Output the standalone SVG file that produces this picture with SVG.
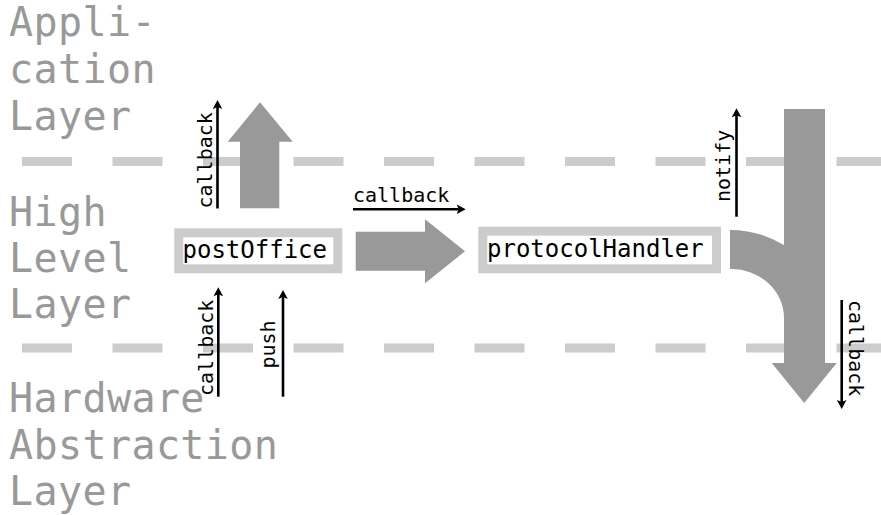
<svg xmlns="http://www.w3.org/2000/svg" width="881" height="515" viewBox="0 0 881 515">
<defs>
<style>
.layer{font-family:"DejaVu Sans Mono",monospace;font-size:40px;fill:#999;letter-spacing:0.4px}
.dash{stroke:#ccc;stroke-width:9;stroke-dasharray:50 40.5;fill:none}
.box{fill:#fff;stroke:#ccc;stroke-width:9}
.name{font-family:"DejaVu Sans Mono",monospace;font-size:24px;fill:#000}
.lbl{font-family:"DejaVu Sans Mono",monospace;font-size:20px;fill:#000}
.flow{fill:#999}
.sig{stroke:#000;stroke-width:2.6;fill:none;marker-end:url(#ah)}
</style>
<marker id="ah" viewBox="-6 -5 11 10" refX="0" refY="0" markerWidth="11" markerHeight="10" orient="auto" markerUnits="userSpaceOnUse">
<path d="M4,0 L-5,-4.8 L-3,0 L-5,4.8 Z" fill="#000"/>
</marker>
</defs>
<g id="layers">
<text class="layer" x="9" y="36">Appli-</text>
<text class="layer" x="9" y="83">cation</text>
<text class="layer" x="9" y="130">Layer</text>
<text class="layer" x="9" y="226">High</text>
<text class="layer" x="9" y="272">Level</text>
<text class="layer" x="9" y="318">Layer</text>
<text class="layer" x="9" y="412">Hardware</text>
<text class="layer" x="9" y="459">Abstraction</text>
<text class="layer" x="9" y="505">Layer</text>
</g>
<g id="boundaries">
<line class="dash" x1="22" y1="161.5" x2="881" y2="161.5"/>
<line class="dash" x1="22" y1="348" x2="881" y2="348"/>
</g>
<g id="flows">
<polygon class="flow" points="240,208.3 240,141.7 227.7,141.7 260,102.3 292.7,141.7 279.3,141.7 279.3,208.3"/>
<polygon class="flow" points="355.7,231.7 425,231.7 425,219.3 465,251.3 425,283.3 425,270.7 355.7,270.7"/>
<path class="flow" d="M784,109 H825 V363 H836.7 L804.2,403 L771.7,363 H784 V318 A53,49 0 0 0 730,269 V230 A105,105 0 0 1 784,245 Z"/>
</g>
<g id="postOffice">
<rect class="box" x="178.8" y="232.8" width="159" height="36"/>
<text class="name" x="182.5" y="257.5">postOffice</text>
</g>
<g id="protocolHandler">
<rect class="box" x="482.8" y="231.2" width="233.7" height="37.6"/>
<text class="name" x="487" y="256.7">protocolHandler</text>
</g>
<g id="connectors">
<line class="sig" x1="217.5" y1="208.5" x2="217.5" y2="104"/>
<line class="sig" x1="218.3" y1="396.7" x2="218.3" y2="291.3"/>
<line class="sig" x1="283" y1="396.7" x2="283" y2="294"/>
<line class="sig" x1="353" y1="209.3" x2="461.7" y2="209.3"/>
<line class="sig" x1="736.5" y1="216.7" x2="736.5" y2="112.3"/>
<line class="sig" x1="841.7" y1="300" x2="841.7" y2="405"/>
<text class="lbl" transform="translate(212,208.5) rotate(-90)">callback</text>
<text class="lbl" transform="translate(212.5,396) rotate(-90)">callback</text>
<text class="lbl" transform="translate(274.5,368.5) rotate(-90)">push</text>
<text class="lbl" x="353" y="201.5">callback</text>
<text class="lbl" transform="translate(729.5,202) rotate(-90)">notify</text>
<text class="lbl" transform="translate(848.5,300) rotate(90)">callback</text>
</g>
</svg>
